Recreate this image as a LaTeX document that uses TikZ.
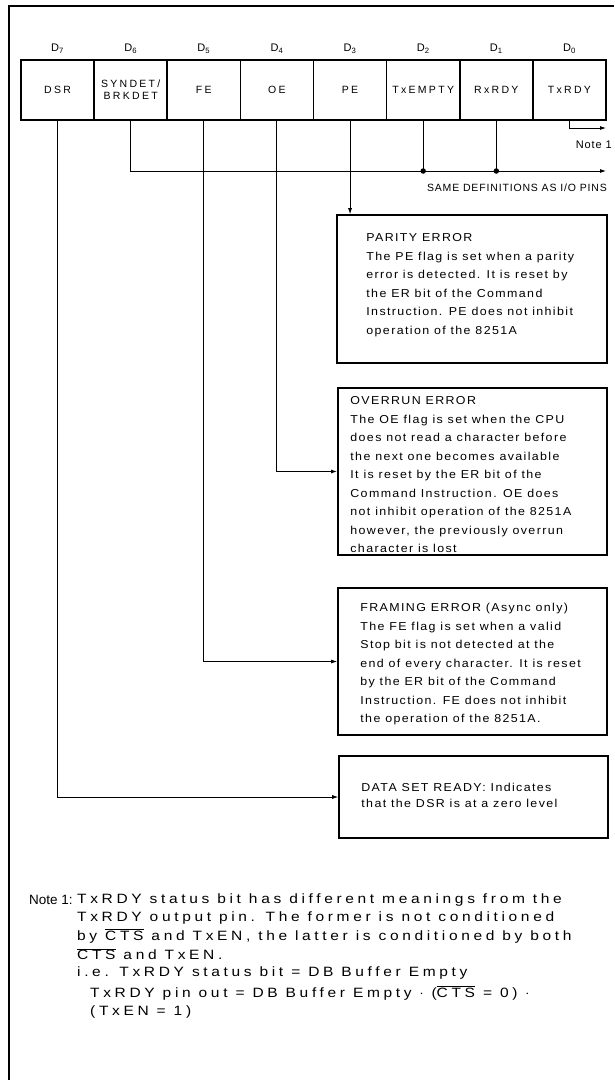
\documentclass[tikz,border=0pt]{standalone}
\usepackage{fontspec}
\setmainfont{Liberation Sans}
\newfontfamily\boxfont[LetterSpace=12,FakeStretch=1.08]{Liberation Sans}
\newfontfamily\notefont[LetterSpace=27,FakeStretch=1.15]{Liberation Sans}
\newfontfamily\notelblfont{Liberation Sans}
\newfontfamily\regfont[LetterSpace=22]{Liberation Sans}
\newfontfamily\lblfont[LetterSpace=8]{Liberation Sans}
\usetikzlibrary{arrows.meta}
\tikzset{
  outerframe/.style={line width=1.8pt},
  regcell/.style={draw, line width=1.6pt, minimum width=73.125pt, minimum height=60pt, inner sep=0pt, align=center, font=\regfont\fontsize{10.5}{12}\selectfont},
  bitlbl/.style={inner sep=0pt, font=\regfont\fontsize{11}{13}\selectfont},
  infobox/.style={draw, line width=1.6pt, inner sep=0pt},
  infotext/.style={inner sep=0pt, anchor=west, align=left, font=\boxfont\fontsize{11.5}{18.5}\selectfont},
  wireline/.style={line width=0.8pt},
  arrline/.style={wireline, -{Latex[length=6pt,width=4pt]}},
  jdot/.style={circle, fill, inner sep=0pt, minimum size=5.5pt},
  sidelbl/.style={inner sep=0pt, anchor=east, font=\lblfont\fontsize{10.5}{12}\selectfont},
  notetxt/.style={inner sep=0pt, anchor=west, font=\notefont\fontsize{13.5}{16}\selectfont},
}
\begin{document}
\begin{tikzpicture}[x=1pt,y=-1pt]
\useasboundingbox (0,0) rectangle (614,1080);
\fill[white] (0,0) rectangle (614,1080);
% outer frame (top and left edges visible)
\draw[outerframe] (614,6) -- (9,6) -- (9,1080);

% bit labels
\node[bitlbl] (d7) at (57.56,49) {D\textsubscript{7}};
\node[bitlbl] (d6) at (130.69,49) {D\textsubscript{6}};
\node[bitlbl] (d5) at (203.81,49) {D\textsubscript{5}};
\node[bitlbl] (d4) at (276.94,49) {D\textsubscript{4}};
\node[bitlbl] (d3) at (350.06,49) {D\textsubscript{3}};
\node[bitlbl] (d2) at (423.19,49) {D\textsubscript{2}};
\node[bitlbl] (d1) at (496.31,49) {D\textsubscript{1}};
\node[bitlbl] (d0) at (569.44,49) {D\textsubscript{0}};

% register cells
\node[regcell] (c7) at (57.56,90) {DSR};
\node[regcell] (c6) at (130.69,90) {SYNDET/\\BRKDET};
\node[regcell] (c5) at (203.81,90) {FE};
\node[regcell] (c4) at (276.94,90) {OE};
\node[regcell] (c3) at (350.06,90) {PE};
\node[regcell] (c2) at (423.19,90) {TxEMPTY};
\node[regcell] (c1) at (496.31,90) {RxRDY};
\node[regcell] (c0) at (569.44,90) {TxRDY};

% description boxes
\node[infobox, minimum width=270pt, minimum height=148pt] (peb) at (472,289) {};
\node[infobox, minimum width=269pt, minimum height=167pt] (oeb) at (472.5,471.5) {};
\node[infobox, minimum width=269pt, minimum height=147pt] (feb) at (472.5,661.5) {};
\node[infobox, minimum width=269pt, minimum height=82pt] (dsb) at (473.5,797) {};

\node[infotext] (pet) at ([xshift=30pt,yshift=4pt]peb.west) {PARITY ERROR\\
The PE flag is set when a parity\\
error is detected. It is reset by\\
the ER bit of the Command\\
Instruction. PE does not inhibit\\
operation of the 8251A};

\node[infotext] (oet) at ([xshift=13pt,yshift=-3.5pt]oeb.west) {OVERRUN ERROR\\
The OE flag is set when the CPU\\
does not read a character before\\
the next one becomes available\\
It is reset by the ER bit of the\\
Command Instruction. OE does\\
not inhibit operation of the 8251A\\
however, the previously overrun\\
character is lost};

\node[infotext] (fet) at ([xshift=23pt,yshift=-3pt]feb.west) {FRAMING ERROR (Async only)\\
The FE flag is set when a valid\\
Stop bit is not detected at the\\
end of every character. It is reset\\
by the ER bit of the Command\\
Instruction. FE does not inhibit\\
the operation of the 8251A.};

\node[infotext, font=\boxfont\fontsize{11.5}{16}\selectfont] (dst) at ([xshift=23pt,yshift=2pt]dsb.west) {DATA SET READY: Indicates\\
that the DSR is at a zero level};

% connectors
\coordinate (busend) at (606,171);
\coordinate (n1end) at (606,128);
\draw[arrline] (c0.south) |- (n1end);
\draw[arrline] (c6.south) |- (busend);
\draw[wireline] (c2.south) -- (c2.south |- busend) node[jdot] (j2) {};
\draw[wireline] (c1.south) -- (c1.south |- busend) node[jdot] (j1) {};
\draw[arrline] (c3.south) -- (c3.south |- peb.north);
\draw[arrline, line width=1.1pt] (c4.south) |- (oeb.west);
\draw[arrline] (c5.south) |- (feb.west);
\draw[arrline] (c7.south) |- (dsb.west);

\node[sidelbl, font=\lblfont\fontsize{11}{13}\selectfont] (n1lbl) at (612,145) {Note 1};
\node[sidelbl] (samedef) at (607,188) {SAME DEFINITIONS AS I/O PINS};

% note
\node[notetxt, font=\notelblfont\fontsize{13.5}{16}\selectfont] (notelbl) at (29,900) {Note 1:};
\node[notetxt] (nl1) at (77,900) {TxRDY status bit has different meanings from the};
\node[notetxt] (nl2) at (77,918) {TxRDY output pin. The former is not conditioned};
\node[notetxt] (nl3) at (77,936) {by $\overline{\mbox{CTS}}$ and TxEN, the latter is conditioned by both};
\node[notetxt] (nl4) at (77,954) {$\overline{\mbox{CTS}}$ and TxEN.};
\node[notetxt] (nl5) at (77,973) {i.e. TxRDY status bit = DB Buffer Empty};
\node[notetxt] (nl6) at (90,993) {TxRDY pin out = DB Buffer Empty $\cdot$ ($\overline{\mbox{CTS}}$ = 0) $\cdot$};
\node[notetxt] (nl7) at (90,1012) {(TxEN = 1)};
\end{tikzpicture}
\end{document}
